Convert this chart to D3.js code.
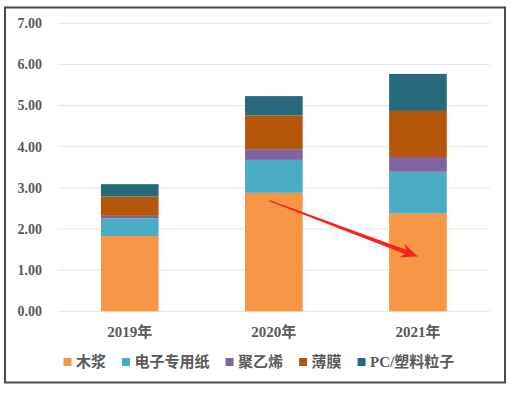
<!DOCTYPE html>
<html>
<head>
	<title>堆积柱状图</title>
	<meta charset='utf-8'>
	<style>
		html, body {
			margin: 0;
			padding: 0;
			background: #fff;
		}
		.grid line {
			stroke: #e6e6e6;
			stroke-width: 1px;
		}
		.axis-text {
			font-family: 'Liberation Serif', 'Noto Sans CJK SC', serif;
			font-weight: bold;
			fill: #595959;
		}
		.legend-text {
			font-family: 'Liberation Serif', 'Noto Sans CJK SC', serif;
			font-weight: bold;
			font-size: 15px;
			fill: #595959;
		}
	</style>
</head>
<body>
<div id="chart"></div>
<script src='https://d3js.org/d3.v7.min.js'></script>
<script>
	'use strict';

	// данные
	const years = ['2019年', '2020年', '2021年'];
	const seriesNames = ['木浆', '电子专用纸', '聚乙烯', '薄膜', 'PC/塑料粒子'];
	const muJiang = [1.83, 2.88, 2.38];
	const dianZiZhuanYongZhi = [0.43, 0.80, 1.01];
	const juYiXi = [0.06, 0.26, 0.36];
	const boMo = [0.47, 0.82, 1.12];
	const pcSuLiao = [0.30, 0.47, 0.90];
	const yTicks = [0, 1, 2, 3, 4, 5, 6, 7];
	// стрелка-аннотация (в координатах данных)
	const arrowFrom = {year: '2020年', value: 2.69};
	const arrowTo = {year: '2021年', value: 1.33};

	const colors = ['#f79646', '#4bacc6', '#8064a2', '#b5570a', '#276a7b'];
	const seriesValues = [muJiang, dianZiZhuanYongZhi, juYiXi, boMo, pcSuLiao];

	const W = 513, H = 393;
	const plot = {left: 57.7, right: 490, top: 23.3, bottom: 311.3};

	const svg = d3.select('#chart').append('svg')
		.attr('width', W)
		.attr('height', H);

	svg.append('rect')
		.attr('width', W).attr('height', H)
		.attr('fill', '#fff');

	// рамка
	svg.append('rect')
		.attr('x', 5).attr('y', 7.5)
		.attr('width', 500).attr('height', 375)
		.attr('fill', 'none')
		.attr('stroke', '#4a4a4a')
		.attr('stroke-width', 2);

	const xScale = d3.scaleBand()
		.domain(years)
		.range([plot.left, plot.right])
		.paddingInner(0.6)
		.paddingOuter(0.3);

	const yScale = d3.scaleLinear()
		.domain([0, 7])
		.range([plot.bottom, plot.top]);

	// сетка
	svg.append('g')
		.attr('class', 'grid')
		.selectAll('line')
		.data(yTicks)
		.enter().append('line')
		.attr('x1', plot.left)
		.attr('x2', plot.right)
		.attr('y1', d => yScale(d))
		.attr('y2', d => yScale(d));

	// подписи оси Y
	svg.append('g')
		.selectAll('text')
		.data(yTicks)
		.enter().append('text')
		.attr('class', 'axis-text')
		.attr('x', 42)
		.attr('y', d => yScale(d))
		.attr('dy', '0.35em')
		.attr('text-anchor', 'end')
		.style('font-size', '14px')
		.text(d => d3.format('.2f')(d));

	// стек
	const table = years.map((y, i) => {
		const row = {year: y};
		seriesNames.forEach((s, k) => { row[s] = seriesValues[k][i]; });
		return row;
	});
	const stacked = d3.stack().keys(seriesNames)(table);

	stacked.forEach((layer, k) => {
		svg.append('g')
			.attr('fill', colors[k])
			.selectAll('rect')
			.data(layer)
			.enter().append('rect')
			.attr('x', d => xScale(d.data.year))
			.attr('width', xScale.bandwidth())
			.attr('y', d => yScale(d[1]))
			.attr('height', d => yScale(d[0]) - yScale(d[1]));
	});

	// подписи оси X
	svg.append('g')
		.selectAll('text')
		.data(years)
		.enter().append('text')
		.attr('class', 'axis-text')
		.attr('x', d => xScale(d) + xScale.bandwidth() / 2)
		.attr('y', 332)
		.attr('dy', '0.35em')
		.attr('text-anchor', 'middle')
		.style('font-size', '15px')
		.text(d => d);

	// стрелка
	const x0 = xScale(arrowFrom.year) + xScale.bandwidth() * 0.42;
	const y0 = yScale(arrowFrom.value);
	const x1 = xScale(arrowTo.year) + xScale.bandwidth() / 2;
	const y1 = yScale(arrowTo.value);
	const len = Math.hypot(x1 - x0, y1 - y0);
	const angle = Math.atan2(y1 - y0, x1 - x0) * 180 / Math.PI;
	const shape = [
		[0, -0.6], [len - 13, -2.2], [len - 17, -7], [len, 0],
		[len - 17, 7], [len - 13, 2.2], [0, 0.6]
	];
	svg.append('polygon')
		.attr('points', shape.map(p => p.join(',')).join(' '))
		.attr('fill', '#ff1f1a')
		.attr('transform', 'translate(' + x0 + ',' + y0 + ') rotate(' + angle + ')');

	// легенда
	const legend = svg.append('g');
	let cursor = 0;
	seriesNames.forEach((name, k) => {
		const item = legend.append('g').attr('transform', 'translate(' + cursor + ',0)');
		item.append('rect')
			.attr('x', 0).attr('y', -4)
			.attr('width', 8).attr('height', 8)
			.attr('fill', colors[k]);
		const t = item.append('text')
			.attr('class', 'legend-text')
			.attr('x', 12.5)
			.attr('dy', '0.35em')
			.text(name);
		cursor += 12.5 + t.node().getComputedTextLength() + 16;
	});
	const legendWidth = cursor - 16;
	legend.attr('transform', 'translate(' + (258.9 - legendWidth / 2) + ',362)');
</script>
</body>
</html>
